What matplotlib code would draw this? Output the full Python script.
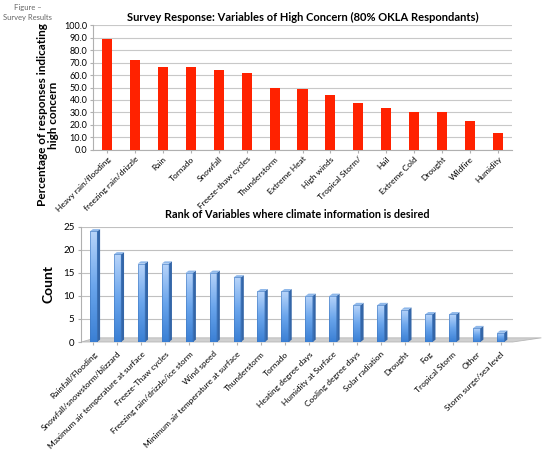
import numpy as np
import matplotlib
matplotlib.use('Agg')
import matplotlib.pyplot as plt
from matplotlib.patches import Polygon

plt.rcParams['font.family'] = ['Lato', 'DejaVu Sans']

# top chart data
concern_labels = ['Heavy rain/flooding', 'freezing rain/drizzle', 'Rain', 'Tornado', 'Snowfall',
                  'Freeze-thaw cycles', 'Thunderstorm', 'Extreme Heat', 'High winds',
                  'Tropical Storm/', 'Hail', 'Extreme Cold', 'Drought', 'Wildfire', 'Humidity']
concern_pct = [88.9, 72.0, 66.7, 66.7, 63.7, 61.9, 49.9, 48.5, 44.3, 37.3, 33.3, 30.1, 30.1, 23.5, 13.3]

# bottom chart data
rank_labels = ['Rainfall/Flooding', 'Snowfall/snowstorm/blizzard', 'Maximum air temperature at surface',
               'Freeze-Thaw cycles', 'Freezing rain/drizzle/ice storm', 'Wind speed',
               'Minimum air temperature at surface', 'Thunderstorm', 'Tornado', 'Heating degree days',
               'Humidity at Surface', 'Cooling degree days', 'Solar radiation', 'Drought', 'Fog',
               'Tropical Storm', 'Other', 'Storm surge/sea level']
rank_count = [24, 19, 17, 17, 15, 15, 14, 11, 11, 10, 10, 8, 8, 7, 6, 6, 3, 2]

fig = plt.figure(figsize=(5.5, 4.5), dpi=100)

fig.text(0.05, 0.992, 'Figure \u2013\nSurvey Results', ha='center', va='top',
         fontsize=5.5, color='#666666', linespacing=1.5)

# ---- top chart
ax1 = fig.add_axes([0.169, 0.667, 0.762, 0.277])
x1 = np.arange(len(concern_pct))
ax1.bar(x1, concern_pct, width=0.36, color='#ff2200', zorder=3)
ax1.set_xlim(-0.5, len(concern_pct) - 0.5)
ax1.set_ylim(0, 100)
ax1.set_yticks(np.arange(0, 101, 10))
ax1.set_yticklabels(['%.1f' % v for v in np.arange(0, 101, 10)], fontsize=6.5)
ax1.set_xticks(x1)
ax1.set_xticklabels(concern_labels, rotation=45, ha='right', rotation_mode='anchor', fontsize=6)
ax1.yaxis.grid(True, color='#c8c8c8', linewidth=0.8, zorder=0)
for s in ['top', 'right']:
    ax1.spines[s].set_visible(False)
for s in ['left', 'bottom']:
    ax1.spines[s].set_color('#b0b0b0')
ax1.tick_params(axis='both', length=2, color='#b0b0b0', pad=2)
ax1.set_title('Survey Response: Variables of High Concern (80% OKLA Respondants)',
              fontsize=8, fontweight='bold', pad=3)
ax1.set_ylabel('Percentage of responses indicating\nhigh concern', fontsize=8.5, fontweight='bold',
               linespacing=1.1)
ax1.yaxis.set_label_coords(-0.08, 0.28)

# ---- bottom chart (pseudo 3D)
ax2 = fig.add_axes([0.148, 0.24, 0.784, 0.256])
x2 = np.arange(len(rank_count))
w = 0.3
side = 0.13
ax2.set_xlim(-0.5, len(rank_count) - 0.5)
ax2.set_ylim(0, 25)

# floor
floor = Polygon([(-0.5, 0), (len(rank_count) - 0.5, 0), (len(rank_count) + 0.7, 0.9), (0.1, 0.9)],
                closed=True, facecolor='#d0d0d0', edgecolor='#b8b8b8', lw=0.6, clip_on=False, zorder=1)
ax2.add_patch(floor)

grad = np.linspace(0, 1, 256).reshape(-1, 1)
cmap = matplotlib.colors.LinearSegmentedColormap.from_list('b', ['#3a7fd4', '#6aa5ec', '#b9d5fa'])
for xi, h in zip(x2, rank_count):
    bars = ax2.bar(xi, h, width=w, color='none', edgecolor='#3f78c0', lw=0.4, zorder=4)
    im = ax2.imshow(grad, extent=[xi - w / 2, xi + w / 2, 0, h], origin='lower', aspect='auto',
                    cmap=cmap, zorder=3)
    im.set_clip_path(bars[0])
    ax2.add_patch(Polygon([(xi + w / 2, 0), (xi + w / 2 + side, 0.5), (xi + w / 2 + side, h + 0.5),
                           (xi + w / 2, h)], closed=True, facecolor='#3466a8', edgecolor='none', zorder=3))
    ax2.add_patch(Polygon([(xi - w / 2, h), (xi + w / 2, h), (xi + w / 2 + side, h + 0.5),
                           (xi - w / 2 + side, h + 0.5)], closed=True, facecolor='#8fb8ea',
                          edgecolor='none', zorder=3))

ax2.set_xticks(x2)
ax2.set_xticklabels(rank_labels, rotation=45, ha='right', rotation_mode='anchor', fontsize=6)
ax2.set_yticks(np.arange(0, 26, 5))
ax2.tick_params(axis='y', labelsize=7, length=2, color='#b0b0b0', pad=3)
ax2.tick_params(axis='x', length=2, color='#b0b0b0', pad=4)
ax2.yaxis.grid(True, color='#c0c0c0', linewidth=0.8, zorder=0)
ax2.set_axisbelow(True)
for s in ['top', 'right', 'bottom']:
    ax2.spines[s].set_visible(False)
ax2.spines['left'].set_color('#b0b0b0')
ax2.set_title('Rank of Variables where climate information is desired',
              fontsize=7.8, fontweight='bold', pad=6)
ax2.set_ylabel('Count', fontsize=10, fontweight='bold', labelpad=6)

fig.savefig('out.png', dpi=100)
